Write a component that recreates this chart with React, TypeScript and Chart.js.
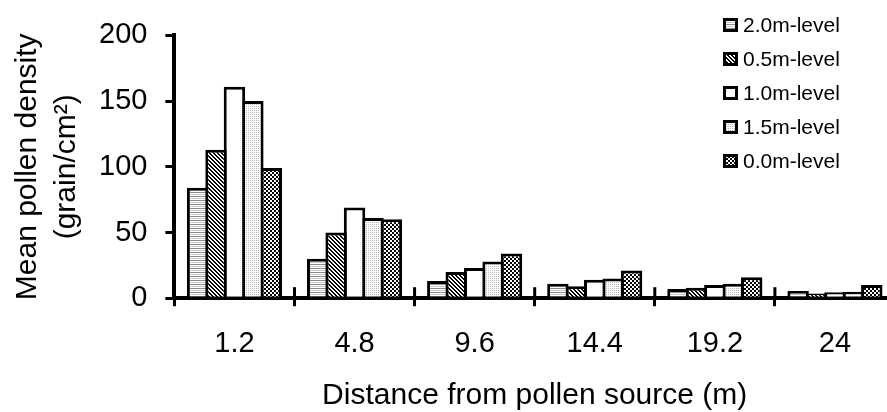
import React, { useEffect, useRef } from 'react';
import { Chart, registerables } from 'chart.js';

Chart.register(...registerables);

// ---- data ----
const categories = ['1.2', '4.8', '9.6', '14.4', '19.2', '24'];
const seriesNames = ['2.0m-level', '0.5m-level', '1.0m-level', '1.5m-level', '0.0m-level'];
const level20 = [84, 30, 13, 11, 7, 5.5];
const level05 = [113, 50, 20, 9, 8, 3.5];
const level10 = [161, 69, 23, 14, 10, 4.5];
const level15 = [150, 61, 28, 15, 11, 5];
const level00 = [99, 60, 34, 21, 16, 10];
const yTicks = [0, 50, 100, 150, 200];
const xTitle = 'Distance from pollen source (m)';
const yTitle = ['Mean pollen density', '(grain/cm²)'];

const FONT = '"Liberation Sans", Arial, Helvetica, sans-serif';

type Kind = 'hstripe' | 'diag' | 'white' | 'stipple' | 'checker';

function makePattern(kind: Kind): CanvasPattern | string {
  if (kind === 'white') return '#ffffff';
  const c = document.createElement('canvas');
  const size = 4;
  c.width = size;
  c.height = size;
  const ctx = c.getContext('2d')!;
  ctx.fillStyle = '#ffffff';
  ctx.fillRect(0, 0, size, size);
  for (let y = 0; y < size; y++) {
    for (let x = 0; x < size; x++) {
      let col: string | null = null;
      if (kind === 'hstripe') {
        if (y === 0) col = '#8c8c8c';
        else if (y === 2) col = '#c8c8c8';
      } else if (kind === 'diag') {
        const d = (((x - y) % 4) + 4) % 4;
        if (d === 0 || d === 1) col = '#000000';
      } else if (kind === 'stipple') {
        if (x % 2 === 0 && y % 2 === 0) col = '#b4b4b4';
      } else if (kind === 'checker') {
        if ((Math.floor(x / 2) + Math.floor(y / 2)) % 2 === 0) col = '#000000';
      }
      if (col) {
        ctx.fillStyle = col;
        ctx.fillRect(x, y, 1, 1);
      }
    }
  }
  return ctx.createPattern(c, 'repeat')!;
}

const innerTickPlugin = {
  id: 'innerTicks',
  afterDatasetsDraw(chart: any) {
    const xs = chart.scales.x;
    const bottom = chart.chartArea.bottom;
    const ctx = chart.ctx;
    ctx.save();
    ctx.strokeStyle = '#000';
    ctx.lineWidth = 3;
    for (let i = 0; i <= categories.length; i++) {
      const px = xs.getPixelForValue(i - 0.5);
      ctx.beginPath();
      ctx.moveTo(px, bottom - 11);
      ctx.lineTo(px, bottom);
      ctx.stroke();
    }
    ctx.restore();
  },
};

const legendPlugin = {
  id: 'boxLegend',
  afterDraw(chart: any) {
    const ctx = chart.ctx;
    ctx.save();
    ctx.font = `21px ${FONT}`;
    ctx.textBaseline = 'middle';
    ctx.textAlign = 'left';
    chart.data.datasets.forEach((ds: any, i: number) => {
      const y = 25 + i * 34;
      const x = 723;
      ctx.fillStyle = '#000';
      ctx.fillRect(x, y - 7, 15, 14);
      ctx.fillStyle = ds.backgroundColor;
      ctx.fillRect(x + 3, y - 4, 9, 8);
      ctx.fillStyle = '#000';
      ctx.fillText(ds.label, 743, y + 1);
    });
    ctx.restore();
  },
};

export default function App() {
  const ref = useRef<HTMLCanvasElement | null>(null);

  useEffect(() => {
    if (!ref.current) return;
    const kinds: Kind[] = ['hstripe', 'diag', 'white', 'stipple', 'checker'];
    const values = [level20, level05, level10, level15, level00];
    const chart = new Chart(ref.current, {
      type: 'bar',
      data: {
        labels: categories,
        datasets: seriesNames.map((name, i) => ({
          label: name,
          data: values[i],
          backgroundColor: makePattern(kinds[i]) as any,
          borderColor: '#000',
          borderWidth: 3,
          categoryPercentage: 0.767,
          barPercentage: 1.163,
        })),
      },
      options: {
        animation: false,
        responsive: false,
        devicePixelRatio: 1,
        layout: { padding: { top: 28, right: 5, bottom: 0, left: 0 } },
        plugins: {
          legend: { display: false },
          tooltip: { enabled: false },
        },
        scales: {
          x: {
            grid: {
              offset: true,
              drawOnChartArea: false,
              tickLength: 8,
              lineWidth: 3,
              color: '#000',
            },
            border: { display: true, color: '#000', width: 4 },
            ticks: {
              font: { family: FONT, size: 29 },
              color: '#000',
              padding: 20,
              maxRotation: 0,
              autoSkip: false,
            },
            title: {
              display: true,
              text: xTitle,
              font: { family: FONT, size: 30 },
              color: '#000',
              padding: { top: -3, bottom: -2 },
            },
          },
          y: {
            min: 0,
            max: 200,
            afterBuildTicks: (s: any) => {
              s.ticks = yTicks.map((v) => ({ value: v }));
            },
            grid: {
              drawOnChartArea: false,
              tickLength: 9,
              lineWidth: 3,
              color: '#000',
            },
            border: { display: true, color: '#000', width: 4 },
            ticks: {
              font: { family: FONT, size: 29 },
              color: '#000',
              padding: 18,
            },
            title: {
              display: true,
              text: yTitle,
              font: { family: FONT, size: 30, lineHeight: 1.3 },
              color: '#000',
              padding: { top: 8, bottom: -5 },
            },
          },
        },
      },
      plugins: [innerTickPlugin, legendPlugin],
    });
    return () => chart.destroy();
  }, []);

  return (
    <div
      style={{
        position: 'fixed',
        left: 0,
        top: 0,
        width: 887,
        height: 412,
        overflow: 'hidden',
        background: '#fff',
      }}
    >
      <canvas ref={ref} width={900} height={412} style={{ display: 'block' }} />
    </div>
  );
}
